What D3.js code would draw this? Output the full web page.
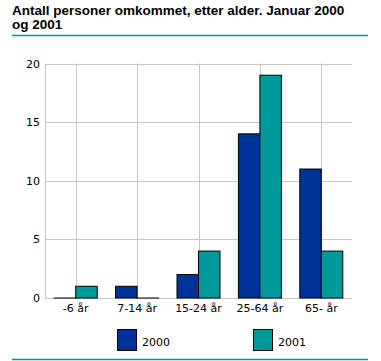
<!DOCTYPE html>
<html>
<head>
<meta charset="utf-8">
<script src="https://cdn.jsdelivr.net/npm/d3@7"></script>
<style>
body { margin: 0; background: #fff; }
svg { display: block; font-family: "DejaVu Sans", Verdana, sans-serif; }
</style>
</head>
<body>
<div id="chart"></div>
<script>
// data
var categories = ["-6 år", "7-14 år", "15-24 år", "25-64 år", "65- år"];
var series = ["2000", "2001"];
var values2000 = [0, 1, 2, 14, 11];
var values2001 = [1, 0, 4, 19, 4];
var yTicks = [0, 5, 10, 15, 20];
var colors = ["#003399", "#009999"];

var W = 381, H = 361;
var mLeft = 45, mRight = 352, mTop = 63.5, mBottom = 298;

var svg = d3.select("#chart").append("svg")
    .attr("width", W)
    .attr("height", H);

// title
var title = svg.append("text")
    .attr("font-family", "'Liberation Sans', Arial, sans-serif")
    .attr("font-size", 13.5)
    .attr("font-weight", "bold")
    .attr("fill", "#000");
title.append("tspan").attr("x", 12).attr("y", 14.5).text("Antall personer omkommet, etter alder. Januar 2000");
title.append("tspan").attr("x", 12).attr("y", 29).text("og 2001");

svg.append("line")
    .attr("x1", 12).attr("x2", 368)
    .attr("y1", 35.5).attr("y2", 35.5)
    .attr("stroke", "#009999").attr("stroke-width", 1.5);
svg.append("line")
    .attr("x1", 12).attr("x2", 368)
    .attr("y1", 359.5).attr("y2", 359.5)
    .attr("stroke", "#009999").attr("stroke-width", 1.5);

var x = d3.scaleBand().domain(categories).range([mLeft, mRight]);
var y = d3.scaleLinear().domain([0, 20]).range([mBottom, mTop]);

// grid
svg.append("g").selectAll("line")
    .data(yTicks)
    .enter().append("line")
    .attr("x1", mLeft).attr("x2", mRight)
    .attr("y1", function (d) { return Math.round(y(d)) + 0.5; })
    .attr("y2", function (d) { return Math.round(y(d)) + 0.5; })
    .attr("stroke", "#c8c8c8");
svg.append("g").selectAll("line")
    .data(categories)
    .enter().append("line")
    .attr("x1", function (d) { return Math.round(x(d) + x.bandwidth() / 2) + 0.5; })
    .attr("x2", function (d) { return Math.round(x(d) + x.bandwidth() / 2) + 0.5; })
    .attr("y1", mTop).attr("y2", mBottom)
    .attr("stroke", "#c8c8c8");
svg.append("line")
    .attr("x1", mLeft + 0.5).attr("x2", mLeft + 0.5)
    .attr("y1", mTop).attr("y2", mBottom)
    .attr("stroke", "#c8c8c8");

// y labels
svg.append("g").selectAll("text")
    .data(yTicks)
    .enter().append("text")
    .attr("x", 40)
    .attr("y", function (d) { return y(d) + 4; })
    .attr("text-anchor", "end")
    .attr("font-size", 11)
    .text(function (d) { return d; });

// bars (zero values still show as a flat outline)
var barW = 21.5;
var groups = [values2000, values2001];
groups.forEach(function (vals, si) {
  svg.append("g").selectAll("rect")
    .data(vals)
    .enter().append("rect")
    .attr("x", function (d, i) { return x(categories[i]) + x.bandwidth() / 2 - barW + si * barW; })
    .attr("y", function (d) { return y(d); })
    .attr("width", barW)
    .attr("height", function (d) { return Math.max(mBottom - y(d), 0.01); })
    .attr("fill", colors[si])
    .attr("stroke", "#000")
    .attr("stroke-width", 1);
});

// x labels
svg.append("g").selectAll("text")
    .data(categories)
    .enter().append("text")
    .attr("x", function (d) { return x(d) + x.bandwidth() / 2; })
    .attr("y", 312)
    .attr("text-anchor", "middle")
    .attr("font-size", 11)
    .text(function (d) { return d; });

// legend
var legX = [117, 253];
series.forEach(function (s, i) {
  svg.append("rect")
    .attr("x", legX[i] + 0.5).attr("y", 329.5)
    .attr("width", 19).attr("height", 21)
    .attr("fill", colors[i])
    .attr("stroke", "#000");
  svg.append("text")
    .attr("x", legX[i] + 25)
    .attr("y", 346)
    .attr("font-size", 11)
    .text(s);
});
</script>
</body>
</html>
